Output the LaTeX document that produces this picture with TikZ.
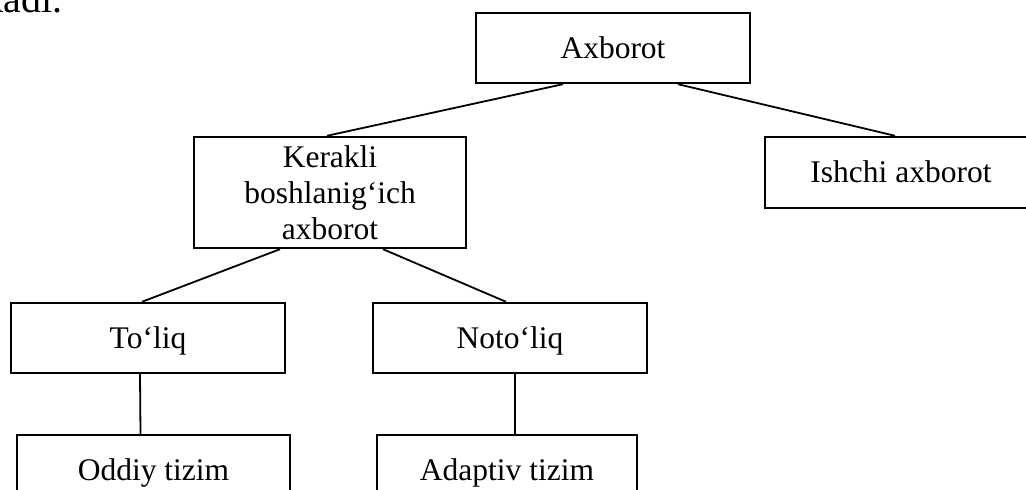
\documentclass[tikz,border=0pt]{standalone}
\usepackage{fontspec}
\setmainfont{Liberation Serif}
\usetikzlibrary{calc}

\begin{document}
\begin{tikzpicture}[
    x=0.5pt, y=-0.5pt,
    box/.style={rectangle, draw, line width=1.2pt, minimum width=137pt, minimum height=35pt, inner sep=0pt, align=center, font=\fontsize{15.75}{18}\selectfont},
    onebox/.style={box, text height=10.4pt, text depth=0pt},
    link/.style={line width=0.9pt}
]
\useasboundingbox (0,0) rectangle (1026,490);
\clip (0,0) rectangle (1026,490);

% ===== End of the text above the scheme =====
\node[anchor=base east, inner sep=0pt, font=\fontsize{20}{24}\selectfont] (prevline) at (63,13) {kadi.};

% ===== Top level =====
\node[onebox] (axb) at (613,48) {Axborot};

% ===== Second level =====
\node[box, minimum width=136pt, minimum height=55.5pt] (kerakli) at (330,192.5) {Kerakli\\boshlanig‘ich\\axborot};
\node[onebox, minimum width=136pt, minimum height=35.5pt] (ishchi) at (901,172.5) {Ishchi axborot};

% ===== Third level =====
\node[onebox] (toliq) at (148,338) {To‘liq};
\node[onebox] (notoliq) at (510,338) {Noto‘liq};

% ===== Systems =====
\node[onebox, minimum width=136.5pt] (oddiy) at (153.5,470) {Oddiy tizim};
\node[onebox, minimum width=130pt] (adaptiv) at (507,470) {Adaptiv tizim};

% Connectors
\draw[link] ($(axb.south)+(-50,0)$) -- ($(kerakli.north)+(-3,0)$);
\draw[link] ($(axb.south)+(65,0)$) -- ($(ishchi.north)+(-6,0)$);
\draw[link] ($(kerakli.south)+(-50,0)$) -- ($(toliq.north)+(-6,0)$);
\draw[link] ($(kerakli.south)+(53,0)$) -- ($(notoliq.north)+(-4,0)$);
\draw[link] ($(toliq.south)+(-8,0)$) -- ($(oddiy.north)+(-13,0)$);
\draw[link] ($(notoliq.south)+(5,0)$) -- ($(adaptiv.north)+(8,0)$);

\end{tikzpicture}
\end{document}
